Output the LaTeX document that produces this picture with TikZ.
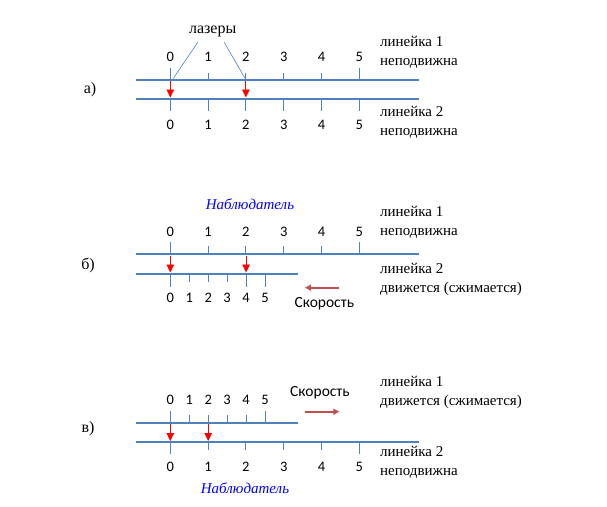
\documentclass[tikz,border=0pt]{standalone}
\usepackage{fontspec}
\setmainfont{Liberation Serif}
\newfontfamily\calfont{Carlito}
\usetikzlibrary{arrows.meta, positioning}
\definecolor{rulerblue}{RGB}{79,129,189}
\definecolor{speedred}{RGB}{192,80,77}

\begin{document}
\begin{tikzpicture}[x=1pt, y=-1pt,
    ruler/.style={draw=rulerblue, line width=1.8pt},
    tickmark/.style={draw=rulerblue, line width=1pt},
    num/.style={font=\calfont\fontsize{14.5}{16}\selectfont, inner sep=0pt, text height=9pt, text depth=0pt},
    lbl/.style={font=\fontsize{15}{19}\selectfont, align=left, anchor=west, inner sep=0pt},
    part/.style={font=\fontsize{16}{18}\selectfont, inner sep=0pt},
    laser/.style={draw=red, line width=0.9pt, -{Triangle[length=8pt, width=7.5pt]}},
    speed/.style={draw=speedred, line width=1.8pt, -{Triangle[length=6pt, width=6pt]}},
    observer/.style={font=\itshape\fontsize{15}{17}\selectfont, text=blue, inner sep=0pt},
    pointer/.style={draw=rulerblue, line width=0.6pt}
]
\useasboundingbox (0,0) rectangle (607,506);

% a) both rulers at rest
\node[part] (pa) at (90,90) {а)};
\coordinate (a1w) at (136,80);   \coordinate (a1e) at (419,80);
\coordinate (a2w) at (136,98.7); \coordinate (a2e) at (419,98.7);
\draw[ruler] (a1w) -- (a1e);
\draw[ruler] (a2w) -- (a2e);
\foreach \i/\x/\l in {0/170.3/12, 1/208.1/7, 2/245.9/7, 3/283.7/7, 4/321.5/7, 5/359.3/12} {
  \draw[tickmark] (\x,80) -- ++(0,-\l);
  \draw[tickmark] (\x,98.7) -- ++(0,12);
  \node[num] (a1n\i) at (\x,56.7) {\i};
  \node[num] (a2n\i) at (\x,125) {\i};
}
\node[part] (lasers) at (212.7,31.7) {лазеры};
\coordinate (las0) at (173.3,78.3);
\coordinate (las2) at (245,78.3);
\draw[pointer] ([xshift=-15pt,yshift=-5pt]lasers.south) -- (las0);
\draw[pointer] ([xshift=11.5pt,yshift=-5pt]lasers.south) -- (las2);
\coordinate (aup0) at (170.3,81);   \coordinate (adn0) at (170.3,97.5);
\coordinate (aup2) at (245.9,81);   \coordinate (adn2) at (245.9,97.5);
\draw[laser] (aup0) -- (adn0);
\draw[laser] (aup2) -- (adn2);
\node[lbl] (a1txt) at (380,52.8) {линейка 1\\неподвижна};
\node[lbl] (a2txt) at (380,121.9) {линейка 2\\неподвижна};

% b) ruler 2 moves
\node[part] (pb) at (88,265) {б)};
\node[observer] (obsb) at (250,204) {Наблюдатель};
\coordinate (b1w) at (136,254.3); \coordinate (b1e) at (419,254.3);
\coordinate (b2w) at (136,273.7); \coordinate (b2e) at (298.3,273.7);
\draw[ruler] (b1w) -- (b1e);
\draw[ruler] (b2w) -- (b2e);
\foreach \i/\x/\l in {0/170.3/12, 1/208.1/8, 2/245.9/8, 3/283.7/8, 4/321.5/8, 5/359.3/12} {
  \draw[tickmark] (\x,254.3) -- ++(0,-\l);
  \node[num] (b1n\i) at (\x,231.7) {\i};
}
\foreach \i/\x/\l in {0/170.3/13, 1/189.2/8, 2/208.2/8, 3/227.1/8, 4/246.1/13, 5/265/13} {
  \draw[tickmark] (\x,273.7) -- ++(0,\l);
  \node[num] (b2n\i) at (\x,298.3) {\i};
}
\coordinate (bup0) at (170.3,255.5); \coordinate (bdn0) at (170.3,272.5);
\coordinate (bup4) at (246.1,255.5); \coordinate (bdn4) at (246.1,272.5);
\draw[laser] (bup0) -- (bdn0);
\draw[laser] (bup4) -- (bdn4);
\coordinate (bvs) at (339.3,287.7); \coordinate (bve) at (305,287.7);
\draw[speed] (bvs) -- (bve);
\node[num, font=\calfont\fontsize{15.5}{17}\selectfont, text height=10pt, text depth=3pt] (bspeed) at (324.3,304) {Скорость};
\node[lbl] (b1txt) at (380,222.8) {линейка 1\\неподвижна};
\node[lbl] (b2txt) at (380,279.2) {линейка 2\\движется (сжимается)};

% c) ruler 1 moves
\node[part] (pc) at (88,428.3) {в)};
\coordinate (c1w) at (136,422.7); \coordinate (c1e) at (298.3,422.7);
\coordinate (c2w) at (136,442.3); \coordinate (c2e) at (419,442.3);
\draw[ruler] (c1w) -- (c1e);
\draw[ruler] (c2w) -- (c2e);
\foreach \i/\x/\l in {0/170.3/12, 1/189.2/8, 2/208.2/8, 3/227.1/8, 4/246.1/8, 5/265/12} {
  \draw[tickmark] (\x,422.7) -- ++(0,-\l);
  \node[num] (c1n\i) at (\x,400) {\i};
}
\foreach \i/\x/\l in {0/170.3/12, 1/208.1/8, 2/245.9/8, 3/283.7/8, 4/321.5/8, 5/359.3/12} {
  \draw[tickmark] (\x,442.3) -- ++(0,\l);
  \node[num] (c2n\i) at (\x,467.3) {\i};
}
\coordinate (cup0) at (170.3,424); \coordinate (cdn0) at (170.3,441);
\coordinate (cup1) at (208.2,424); \coordinate (cdn1) at (208.2,441);
\draw[laser] (cup0) -- (cdn0);
\draw[laser] (cup1) -- (cdn1);
\coordinate (cvs) at (305,411.7); \coordinate (cve) at (339.3,411.7);
\draw[speed] (cvs) -- (cve);
\node[num, font=\calfont\fontsize{15.5}{17}\selectfont, text height=10pt, text depth=3pt] (cspeed) at (320,393.3) {Скорость};
\node[observer] (obsc) at (245,488.3) {Наблюдатель};
\node[lbl] (c1txt) at (380,392.8) {линейка 1\\движется (сжимается)};
\node[lbl] (c2txt) at (380,461.9) {линейка 2\\неподвижна};

\end{tikzpicture}
\end{document}
